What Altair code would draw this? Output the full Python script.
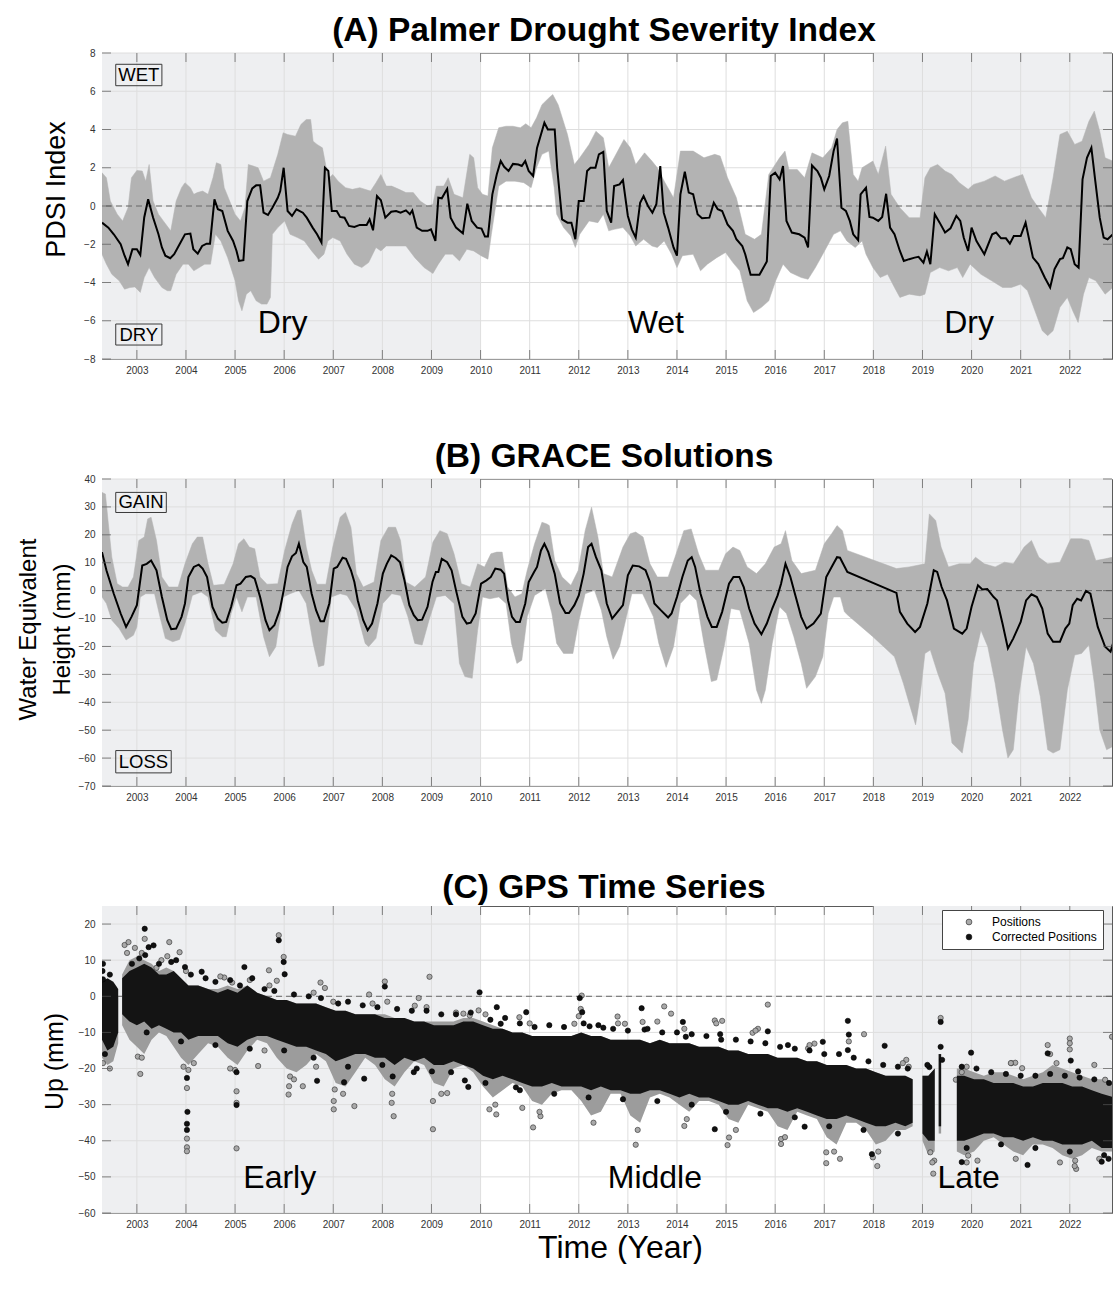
import altair as alt
import pandas as pd

FONT = "Liberation Sans"
X0, X1 = 2002.29, 2022.86
W = 1010
H_A, H_B, H_C = 306, 307, 307

YEARS = list(range(2003, 2023))
PDSI_TICKS = list(range(-8, 9, 2))
GRACE_TICKS = list(range(-70, 41, 10))
GPS_TICKS = list(range(-60, 21, 10))
PERIODS = [(X0, 2010.0), (2018.0, X1)]

# ---------------- (A) PDSI ----------------
PDSI_LINE = [
(2002.29,-0.87),(2002.42,-1.13),(2002.53,-1.48),(2002.67,-2.0),(2002.75,-2.6),(2002.82,-3.04),(2002.91,-2.26),(2003.0,-2.26),
(2003.07,-2.56),(2003.15,-0.6),(2003.23,0.35),(2003.33,-0.6),(2003.44,-1.48),(2003.51,-2.17),(2003.58,-2.6),(2003.68,-2.73),
(2003.76,-2.52),(2003.87,-2.0),(2003.98,-1.48),(2004.09,-1.44),(2004.15,-2.26),(2004.24,-2.49),(2004.33,-2.09),(2004.42,-1.97),
(2004.49,-1.97),(2004.58,0.35),(2004.65,-0.17),(2004.74,-0.26),(2004.85,-1.3),(2004.96,-1.83),(2005.03,-2.35),(2005.08,-2.87),
(2005.17,-2.83),(2005.25,0.26),(2005.35,0.92),(2005.43,1.08),(2005.51,1.08),(2005.58,-0.35),(2005.67,-0.47),(2005.76,-0.09),
(2005.87,0.43),(2005.92,0.78),(2005.99,2.0),(2006.07,-0.26),(2006.16,-0.52),(2006.25,-0.17),(2006.38,-0.35),(2006.46,-0.61),
(2006.58,-1.13),(2006.67,-1.48),(2006.76,-1.91),(2006.83,2.0),(2006.9,1.83),(2006.97,-0.26),(2007.07,-0.26),(2007.14,-0.57),
(2007.23,-0.61),(2007.32,-1.04),(2007.43,-1.1),(2007.54,-0.99),(2007.68,-0.99),(2007.74,-0.7),(2007.81,-1.27),(2007.89,0.52),
(2007.97,0.3),(2008.06,-0.61),(2008.18,-0.3),(2008.28,-0.26),(2008.37,-0.35),(2008.48,-0.23),(2008.56,-0.43),(2008.61,-0.23),
(2008.7,-1.13),(2008.81,-1.3),(2008.92,-1.3),(2008.99,-1.22),(2009.08,-1.83),(2009.14,0.43),(2009.21,0.4),(2009.32,0.9),
(2009.39,-0.61),(2009.5,-1.13),(2009.64,-1.43),(2009.73,0.12),(2009.82,-0.78),(2009.93,-1.13),(2010.02,-1.18),(2010.09,-1.6),
(2010.15,-1.6),(2010.24,0.61),(2010.33,1.65),(2010.41,2.35),(2010.48,2.05),(2010.57,1.83),(2010.66,2.2),(2010.77,2.17),
(2010.84,2.09),(2010.91,2.35),(2010.98,1.83),(2011.07,1.57),(2011.15,3.04),(2011.23,3.74),(2011.3,4.35),(2011.37,4.0),
(2011.46,4.0),(2011.51,4.0),(2011.56,2.0),(2011.66,-0.7),(2011.77,-0.87),(2011.85,-0.87),(2011.93,-1.74),(2012.0,0.26),
(2012.1,0.26),(2012.17,1.83),(2012.24,2.0),(2012.34,2.0),(2012.41,2.7),(2012.5,2.83),(2012.57,-0.26),(2012.66,-0.87),
(2012.72,1.04),(2012.83,1.13),(2012.9,1.36),(2013.0,-0.52),(2013.08,-1.22),(2013.16,-1.65),(2013.25,0.17),(2013.32,0.52),
(2013.41,0.0),(2013.5,-0.35),(2013.58,0.09),(2013.66,2.09),(2013.73,-0.35),(2013.82,-1.13),(2013.93,-2.17),(2014.0,-2.6),
(2014.07,0.61),(2014.16,1.79),(2014.24,0.7),(2014.33,0.61),(2014.42,-0.43),(2014.51,-0.64),(2014.66,-0.61),(2014.75,0.17),
(2014.83,-0.17),(2014.92,-0.26),(2015.03,-0.96),(2015.14,-1.3),(2015.21,-1.74),(2015.33,-2.09),(2015.39,-2.52),(2015.5,-3.6),
(2015.68,-3.6),(2015.83,-2.9),(2015.91,1.57),(2016.0,1.74),(2016.09,1.39),(2016.16,2.09),(2016.23,-0.78),(2016.34,-1.39),
(2016.49,-1.48),(2016.6,-1.65),(2016.67,-2.17),(2016.75,2.12),(2016.86,1.83),(2016.93,1.48),(2017.0,0.87),(2017.1,1.57),
(2017.19,2.87),(2017.26,3.53),(2017.35,-0.09),(2017.44,-0.26),(2017.52,-0.78),(2017.59,-1.48),(2017.69,-1.79),(2017.74,0.61),
(2017.85,0.96),(2017.92,-0.57),(2017.99,-0.61),(2018.1,-0.78),(2018.18,-0.57),(2018.26,0.64),(2018.34,-1.13),(2018.43,-1.48),
(2018.54,-2.35),(2018.62,-2.87),(2018.73,-2.78),(2018.84,-2.7),(2018.92,-2.66),(2019.02,-2.96),(2019.09,-2.38),(2019.16,-3.04),
(2019.25,-0.43),(2019.35,-0.87),(2019.46,-1.39),(2019.57,-1.17),(2019.69,-0.52),(2019.77,-0.78),(2019.84,-1.65),(2019.93,-2.35),
(2020.0,-1.13),(2020.1,-1.83),(2020.26,-2.52),(2020.42,-1.48),(2020.5,-1.39),(2020.6,-1.69),(2020.7,-1.69),(2020.78,-1.97),
(2020.86,-1.57),(2021.0,-1.57),(2021.1,-0.87),(2021.25,-2.7),(2021.36,-3.04),(2021.49,-3.74),(2021.6,-4.26),(2021.69,-3.3),
(2021.8,-2.78),(2021.86,-2.73),(2021.95,-2.17),(2022.02,-2.26),(2022.1,-3.04),(2022.18,-3.22),(2022.26,1.39),(2022.35,2.52),
(2022.44,3.04),(2022.52,1.3),(2022.61,-0.61),(2022.69,-1.65),(2022.77,-1.74),(2022.88,-1.48)]

PDSI_UPPER = [
(2002.29,1.74),(2002.38,1.48),(2002.46,0.26),(2002.6,-0.43),(2002.71,-0.78),(2002.82,-0.09),(2002.89,1.48),(2003.0,1.86),
(2003.11,1.83),(2003.18,1.3),(2003.25,2.17),(2003.33,0.26),(2003.44,-0.43),(2003.54,-0.78),(2003.69,-1.3),(2003.8,0.26),
(2003.91,0.96),(2003.98,1.22),(2004.09,0.96),(2004.16,0.61),(2004.23,0.7),(2004.34,0.78),(2004.45,0.61),(2004.55,1.48),
(2004.62,2.26),(2004.71,2.17),(2004.78,0.96),(2004.89,0.26),(2005.0,-0.43),(2005.11,-0.78),(2005.2,-0.09),(2005.27,2.17),
(2005.37,2.09),(2005.47,2.0),(2005.58,1.3),(2005.72,1.48),(2005.87,2.7),(2005.98,3.83),(2006.07,3.74),(2006.23,3.65),
(2006.34,4.26),(2006.45,4.52),(2006.54,4.52),(2006.59,3.39),(2006.67,3.22),(2006.78,3.04),(2006.85,2.09),(2006.92,1.48),
(2006.99,1.65),(2007.1,1.3),(2007.25,0.96),(2007.39,0.87),(2007.54,0.96),(2007.76,0.78),(2007.87,1.22),(2007.97,1.65),
(2008.08,1.04),(2008.19,1.04),(2008.34,0.87),(2008.48,0.7),(2008.63,0.7),(2008.77,0.26),(2008.92,0.0),(2009.03,0.09),
(2009.1,1.04),(2009.25,1.04),(2009.34,1.48),(2009.46,0.61),(2009.64,0.43),(2009.78,2.7),(2009.86,2.52),(2009.94,0.96),
(2010.04,0.61),(2010.15,0.52),(2010.24,3.04),(2010.37,4.09),(2010.52,4.17),(2010.66,4.17),(2010.81,4.09),(2010.92,4.3),
(2011.03,4.09),(2011.14,4.61),(2011.25,5.3),(2011.39,5.65),(2011.47,5.83),(2011.58,5.3),(2011.77,3.74),(2011.91,2.17),
(2012.02,2.52),(2012.21,3.22),(2012.35,3.91),(2012.5,3.57),(2012.61,2.0),(2012.72,2.52),(2012.92,3.48),(2013.05,3.04),
(2013.16,2.17),(2013.34,2.78),(2013.49,2.35),(2013.6,2.0),(2013.74,1.3),(2013.93,0.43),(2014.07,2.87),(2014.33,2.87),
(2014.55,2.52),(2014.77,2.7),(2014.88,2.61),(2015.03,1.48),(2015.21,0.43),(2015.39,-1.48),(2015.58,-1.74),(2015.72,-1.48),
(2015.87,1.65),(2016.09,2.52),(2016.2,2.87),(2016.28,1.91),(2016.45,1.91),(2016.6,1.48),(2016.75,2.78),(2016.97,2.52),
(2017.15,3.04),(2017.26,4.0),(2017.37,4.35),(2017.48,4.43),(2017.59,1.65),(2017.69,1.3),(2017.77,2.0),(2017.99,2.35),
(2018.1,1.65),(2018.25,3.13),(2018.36,0.61),(2018.54,-0.09),(2018.73,-0.61),(2018.95,-0.61),(2019.05,1.48),(2019.16,2.0),
(2019.31,2.17),(2019.46,1.83),(2019.6,1.65),(2019.75,1.22),(2019.93,0.87),(2020.04,1.13),(2020.26,1.3),(2020.48,1.57),
(2020.67,1.3),(2020.85,1.48),(2021.04,1.65),(2021.22,0.43),(2021.36,-0.09),(2021.51,-0.61),(2021.66,1.48),(2021.8,3.74),
(2021.95,3.91),(2022.1,3.22),(2022.25,3.39),(2022.39,4.43),(2022.5,4.96),(2022.61,3.91),(2022.72,2.52),(2022.88,2.35)]

PDSI_LOWER = [
(2002.29,-2.52),(2002.38,-3.04),(2002.49,-3.57),(2002.64,-3.91),(2002.75,-4.35),(2002.86,-4.26),(2002.96,-4.23),(2003.07,-4.52),
(2003.15,-3.74),(2003.25,-3.22),(2003.36,-3.74),(2003.51,-4.26),(2003.62,-4.43),(2003.69,-4.43),(2003.8,-3.57),(2003.94,-3.04),
(2004.05,-3.04),(2004.16,-3.39),(2004.27,-3.22),(2004.38,-3.04),(2004.5,-3.04),(2004.6,-1.48),(2004.71,-1.83),(2004.85,-2.7),
(2005.0,-3.91),(2005.07,-4.96),(2005.14,-5.48),(2005.23,-4.61),(2005.32,-4.43),(2005.43,-4.96),(2005.54,-5.13),(2005.65,-5.13),
(2005.72,-4.78),(2005.76,-1.48),(2005.87,-1.13),(2006.01,-0.78),(2006.12,-1.48),(2006.27,-1.65),(2006.41,-1.83),(2006.56,-2.35),
(2006.7,-2.78),(2006.81,-2.52),(2006.89,-1.83),(2006.99,-1.65),(2007.14,-1.83),(2007.28,-2.52),(2007.43,-3.04),(2007.58,-3.22),
(2007.72,-2.96),(2007.87,-2.17),(2007.97,-2.35),(2008.08,-2.09),(2008.27,-2.09),(2008.48,-2.09),(2008.66,-2.7),(2008.85,-3.22),
(2009.03,-3.53),(2009.14,-3.04),(2009.28,-2.52),(2009.43,-2.52),(2009.57,-2.87),(2009.72,-2.26),(2009.86,-2.35),(2010.01,-2.6),
(2010.15,-2.78),(2010.22,-1.48),(2010.37,1.04),(2010.52,1.3),(2010.7,1.3),(2010.88,1.22),(2011.03,0.96),(2011.14,2.0),
(2011.25,2.7),(2011.39,2.87),(2011.5,0.96),(2011.55,-0.43),(2011.69,-1.13),(2011.84,-1.57),(2011.93,-2.17),(2012.02,-1.48),
(2012.21,-0.78),(2012.39,-0.87),(2012.5,-0.43),(2012.61,-1.3),(2012.72,-1.22),(2012.9,-1.13),(2013.05,-1.57),(2013.16,-2.09),
(2013.32,-1.74),(2013.49,-2.09),(2013.6,-2.17),(2013.74,-1.83),(2013.89,-2.52),(2014.0,-3.22),(2014.11,-2.6),(2014.33,-2.52),
(2014.48,-3.39),(2014.62,-3.04),(2014.81,-2.7),(2014.99,-2.43),(2015.14,-2.96),(2015.28,-3.39),(2015.43,-4.96),(2015.56,-5.57),
(2015.72,-5.3),(2015.87,-4.96),(2016.01,-3.91),(2016.16,-3.04),(2016.31,-3.48),(2016.53,-3.74),(2016.67,-3.83),(2016.82,-3.22),
(2016.97,-2.52),(2017.19,-1.48),(2017.33,-1.3),(2017.46,-1.83),(2017.63,-2.17),(2017.77,-1.83),(2017.85,-2.52),(2017.99,-3.22),
(2018.14,-3.74),(2018.29,-3.57),(2018.43,-4.26),(2018.54,-4.78),(2018.73,-4.61),(2018.95,-4.7),(2019.05,-4.61),(2019.16,-3.48),
(2019.35,-3.22),(2019.53,-3.39),(2019.71,-3.22),(2019.82,-3.74),(2019.97,-3.04),(2020.19,-3.57),(2020.41,-3.91),(2020.63,-4.26),
(2020.81,-4.26),(2021.0,-4.09),(2021.14,-4.43),(2021.29,-5.48),(2021.44,-6.52),(2021.55,-6.78),(2021.66,-6.52),(2021.8,-5.3),
(2021.95,-4.78),(2022.06,-5.48),(2022.17,-6.09),(2022.28,-4.61),(2022.39,-3.74),(2022.53,-3.91),(2022.72,-4.61),(2022.88,-4.26)]

# ---------------- (B) GRACE ----------------
GRACE_LINE = [
(2002.29,13.8),(2002.38,7.3),(2002.53,-1.1),(2002.67,-8.2),(2002.78,-13.0),(2002.89,-9.4),(2003.0,-5.2),(2003.11,9.0),
(2003.2,9.6),(2003.29,10.8),(2003.4,7.3),(2003.51,-2.3),(2003.62,-10.6),(2003.7,-13.8),(2003.8,-13.6),(2003.91,-9.4),
(2003.98,-4.6),(2004.05,4.9),(2004.16,8.5),(2004.26,9.3),(2004.34,7.9),(2004.43,4.9),(2004.54,-5.8),(2004.65,-10.0),
(2004.74,-11.5),(2004.82,-11.2),(2004.92,-5.8),(2005.03,1.9),(2005.11,2.5),(2005.22,4.9),(2005.32,5.2),(2005.4,4.3),
(2005.51,-2.3),(2005.62,-10.6),(2005.7,-14.2),(2005.8,-12.4),(2005.91,-7.0),(2005.99,0.1),(2006.07,8.5),(2006.16,12.3),
(2006.24,13.5),(2006.3,16.8),(2006.39,10.2),(2006.46,8.5),(2006.56,-1.1),(2006.65,-7.0),(2006.74,-11.0),(2006.81,-11.0),
(2006.92,-4.6),(2007.01,7.9),(2007.08,8.5),(2007.19,11.8),(2007.26,11.4),(2007.36,7.3),(2007.43,3.1),(2007.5,-3.5),
(2007.61,-10.6),(2007.7,-14.2),(2007.79,-11.8),(2007.9,-4.6),(2008.01,6.1),(2008.09,9.6),(2008.18,12.6),(2008.27,11.7),
(2008.36,10.2),(2008.45,3.7),(2008.55,-5.2),(2008.64,-8.8),(2008.72,-10.6),(2008.81,-10.4),(2008.92,-5.8),(2009.02,3.1),
(2009.09,6.7),(2009.14,6.7),(2009.21,11.4),(2009.32,10.2),(2009.41,7.3),(2009.5,0.1),(2009.63,-9.4),(2009.72,-11.8),
(2009.8,-11.5),(2009.9,-8.2),(2010.01,2.5),(2010.12,3.7),(2010.21,4.9),(2010.3,7.9),(2010.41,7.5),(2010.48,6.1),
(2010.56,-3.5),(2010.64,-9.4),(2010.72,-11.2),(2010.8,-11.2),(2010.91,-4.6),(2010.98,3.1),(2011.09,6.7),(2011.15,8.5),
(2011.23,14.4),(2011.3,16.8),(2011.38,13.8),(2011.51,6.1),(2011.62,-4.6),(2011.73,-8.0),(2011.8,-8.0),(2011.91,-5.2),
(2012.0,-1.7),(2012.1,6.1),(2012.19,15.6),(2012.26,16.8),(2012.35,12.0),(2012.46,7.3),(2012.57,-4.6),(2012.68,-10.0),
(2012.79,-7.6),(2012.9,-5.2),(2013.0,5.5),(2013.1,9.0),(2013.23,8.7),(2013.36,7.3),(2013.45,3.1),(2013.54,-4.6),
(2013.67,-7.0),(2013.82,-9.6),(2013.89,-8.2),(2014.0,-2.3),(2014.11,4.9),(2014.22,10.8),(2014.3,12.0),(2014.37,8.5),
(2014.48,-1.1),(2014.62,-9.4),(2014.71,-13.0),(2014.81,-13.0),(2014.92,-7.6),(2015.06,2.5),(2015.15,4.9),(2015.27,4.9),
(2015.36,1.3),(2015.47,-6.4),(2015.58,-11.8),(2015.72,-15.6),(2015.83,-11.8),(2015.94,-6.4),(2016.05,-1.7),(2016.12,2.5),
(2016.21,9.6),(2016.31,4.9),(2016.42,-2.3),(2016.53,-9.4),(2016.64,-13.6),(2016.78,-11.8),(2016.93,-8.2),(2017.04,4.9),
(2017.15,8.5),(2017.26,12.0),(2017.32,11.8),(2017.47,6.7),(2018.47,-0.8),(2018.54,-7.6),(2018.69,-11.8),(2018.85,-14.8),
(2018.95,-13.0),(2019.1,-4.6),(2019.23,7.3),(2019.3,6.7),(2019.39,1.3),(2019.5,-3.5),(2019.64,-13.6),(2019.81,-15.4),
(2019.9,-13.6),(2020.0,-5.8),(2020.13,1.9),(2020.22,0.4),(2020.32,0.6),(2020.45,-2.3),(2020.52,-3.5),(2020.63,-11.8),
(2020.74,-20.7),(2020.85,-17.1),(2021.0,-11.2),(2021.11,-3.5),(2021.22,-1.3),(2021.33,-2.3),(2021.44,-6.4),(2021.55,-15.4),
(2021.66,-18.3),(2021.8,-18.3),(2021.91,-13.6),(2021.99,-11.8),(2022.06,-5.2),(2022.15,-2.9),(2022.23,-3.5),(2022.33,-0.1),
(2022.42,-1.1),(2022.57,-13.0),(2022.72,-20.1),(2022.83,-21.9),(2022.88,-18.9)]

GRACE_UPPER = [
(2002.29,35.2),(2002.36,34.6),(2002.42,23.9),(2002.49,12.0),(2002.6,2.5),(2002.71,1.3),(2002.82,1.3),(2002.93,4.9),
(2003.04,18.0),(2003.15,19.2),(2003.22,25.7),(2003.29,26.3),(2003.4,18.0),(2003.51,4.9),(2003.65,1.3),(2003.84,1.3),
(2003.98,9.6),(2004.13,16.8),(2004.23,19.2),(2004.34,19.2),(2004.45,9.6),(2004.56,1.9),(2004.78,2.3),(2004.96,9.6),
(2005.07,16.8),(2005.18,18.6),(2005.29,15.6),(2005.4,15.0),(2005.51,4.9),(2005.65,2.3),(2005.87,2.5),(2006.01,14.4),
(2006.16,23.9),(2006.27,28.7),(2006.34,28.9),(2006.45,15.6),(2006.56,7.3),(2006.67,2.3),(2006.85,2.3),(2006.99,15.6),
(2007.14,26.3),(2007.25,28.1),(2007.36,22.7),(2007.47,6.1),(2007.61,1.3),(2007.83,3.1),(2007.97,18.0),(2008.12,22.7),
(2008.27,22.7),(2008.37,18.0),(2008.48,3.1),(2008.66,1.3),(2008.88,4.9),(2009.03,17.4),(2009.17,21.5),(2009.32,20.4),
(2009.46,13.2),(2009.61,2.5),(2009.79,1.3),(2009.94,9.6),(2010.08,8.5),(2010.21,13.2),(2010.33,13.8),(2010.44,13.8),
(2010.55,1.3),(2010.7,-2.3),(2010.84,-1.1),(2010.95,7.3),(2011.1,16.8),(2011.25,24.5),(2011.35,23.9),(2011.4,23.3),
(2011.51,10.8),(2011.66,4.9),(2011.84,1.9),(2011.99,7.3),(2012.13,21.5),(2012.26,29.9),(2012.39,19.2),(2012.5,6.1),
(2012.68,4.9),(2012.9,15.6),(2013.05,20.4),(2013.16,21.0),(2013.31,19.2),(2013.45,9.6),(2013.6,4.9),(2013.82,4.9),
(2013.96,12.0),(2014.14,21.5),(2014.29,22.1),(2014.44,13.2),(2014.58,7.3),(2014.85,7.3),(2014.99,13.2),(2015.14,15.6),
(2015.28,14.4),(2015.43,8.5),(2015.62,6.1),(2015.8,9.6),(2015.98,15.6),(2016.12,16.8),(2016.21,21.5),(2016.34,10.8),
(2016.53,6.1),(2016.82,7.3),(2017.0,16.8),(2017.15,20.4),(2017.26,23.3),(2017.37,21.5),(2017.47,14.4),(2018.47,7.9),
(2018.73,8.5),(2019.05,9.6),(2019.14,27.5),(2019.27,25.1),(2019.38,15.6),(2019.53,8.5),(2019.75,9.6),(2019.97,9.6),
(2020.08,12.0),(2020.26,9.6),(2020.48,8.5),(2020.67,10.2),(2020.85,9.6),(2021.07,15.6),(2021.22,18.0),(2021.37,12.0),
(2021.55,9.6),(2021.8,10.2),(2022.02,18.6),(2022.24,18.6),(2022.39,18.0),(2022.53,10.8),(2022.72,11.4),(2022.88,12.0)]

GRACE_LOWER = [
(2002.29,-2.3),(2002.38,-4.6),(2002.49,-10.6),(2002.64,-13.6),(2002.78,-17.7),(2002.93,-16.0),(2003.0,-13.0),(2003.07,-2.3),
(2003.18,-1.1),(2003.36,-1.1),(2003.47,-9.4),(2003.58,-17.1),(2003.73,-18.3),(2003.87,-17.5),(2003.98,-11.8),(2004.13,-1.7),
(2004.31,-0.5),(2004.45,-2.3),(2004.6,-14.2),(2004.74,-16.5),(2004.82,-16.5),(2004.92,-8.2),(2005.03,-2.3),(2005.14,-7.6),
(2005.25,-2.3),(2005.43,-2.3),(2005.58,-16.5),(2005.7,-23.7),(2005.83,-20.1),(2005.98,-2.3),(2006.12,-1.1),(2006.3,0.1),
(2006.45,-4.6),(2006.59,-18.9),(2006.7,-27.3),(2006.81,-26.7),(2006.96,-2.3),(2007.14,-1.1),(2007.28,-1.7),(2007.47,-7.0),
(2007.65,-18.9),(2007.72,-20.1),(2007.87,-17.1),(2008.01,-4.6),(2008.19,-1.1),(2008.37,-1.7),(2008.52,-9.4),(2008.66,-18.9),
(2008.81,-19.5),(2008.95,-10.6),(2009.1,-2.3),(2009.28,-1.7),(2009.46,-4.6),(2009.57,-26.1),(2009.68,-30.8),(2009.83,-31.4),
(2009.94,-14.2),(2010.04,-2.3),(2010.19,-2.9),(2010.37,-2.3),(2010.52,-4.6),(2010.63,-18.9),(2010.74,-26.1),(2010.84,-24.9),
(2010.95,-9.4),(2011.1,-1.7),(2011.32,0.7),(2011.45,-8.0),(2011.55,-18.9),(2011.69,-22.5),(2011.88,-22.5),(2011.99,-11.8),
(2012.13,-1.1),(2012.32,0.1),(2012.46,-7.0),(2012.57,-16.5),(2012.7,-24.6),(2012.83,-20.1),(2012.97,-9.4),(2013.08,-1.1),
(2013.3,-1.1),(2013.52,-9.4),(2013.63,-18.9),(2013.78,-27.5),(2013.93,-20.1),(2014.07,-4.6),(2014.26,-1.1),(2014.4,-3.5),
(2014.55,-18.9),(2014.7,-32.6),(2014.81,-32.0),(2014.96,-20.1),(2015.1,-6.4),(2015.28,-7.0),(2015.47,-18.9),(2015.62,-35.6),
(2015.72,-40.4),(2015.8,-35.6),(2015.94,-18.9),(2016.09,-5.8),(2016.23,-8.2),(2016.38,-16.5),(2016.53,-26.1),(2016.64,-35.0),
(2016.82,-30.8),(2016.97,-23.7),(2017.08,-8.2),(2017.19,-2.3),(2017.33,-2.3),(2017.41,-7.6),(2017.48,-8.8),(2017.99,-16.5),
(2018.43,-23.7),(2018.61,-33.2),(2018.73,-40.4),(2018.86,-48.1),(2018.95,-38.0),(2019.05,-22.5),(2019.16,-21.3),(2019.31,-29.6),
(2019.46,-36.8),(2019.6,-54.6),(2019.81,-58.2),(2019.93,-46.3),(2020.04,-26.1),(2020.19,-14.2),(2020.33,-20.1),(2020.48,-33.2),
(2020.63,-49.9),(2020.74,-60.0),(2020.85,-57.0),(2020.96,-38.0),(2021.11,-20.1),(2021.26,-26.1),(2021.4,-38.0),(2021.55,-57.0),
(2021.66,-58.2),(2021.8,-57.0),(2021.95,-35.6),(2022.1,-23.1),(2022.24,-22.5),(2022.39,-19.5),(2022.5,-33.2),(2022.61,-49.9),
(2022.75,-57.0),(2022.88,-55.8)]

# ---------------- (C) GPS ----------------
# dense cloud of daily solutions: (time, upper edge, lower edge), split where data are missing
GPS_CORR_CLOUD = [
 [(2002.29,4,-12),(2002.40,5,-15),(2002.52,4,-14),(2002.62,2,-10)],
 [(2002.70,5,-5),(2002.85,7,-7),(2003.00,8,-8),(2003.15,9,-7),(2003.30,8,-9),(2003.45,6,-8),(2003.60,6,-9),(2003.75,7,-10),
  (2003.90,5,-10),(2004.05,3,-12),(2004.25,3,-11),(2004.45,2,-11),(2004.65,1,-11),(2004.85,2,-13),(2005.05,1,-14),(2005.25,3,-12),
  (2005.45,1,-11),(2005.65,0,-11),(2005.85,-1,-12),(2006.05,-1,-13),(2006.25,-2,-14),(2006.45,-2,-14),(2006.65,-2,-15),(2006.85,-3,-16),
  (2007.05,-4,-18),(2007.25,-4,-17),(2007.45,-5,-16),(2007.65,-5,-16),(2007.85,-5,-17),(2008.05,-6,-17),(2008.25,-6,-19),(2008.45,-6,-17),
  (2008.65,-7,-18),(2008.85,-7,-17),(2009.05,-8,-19),(2009.25,-8,-19),(2009.45,-8,-18),(2009.65,-7,-19),(2009.85,-7,-20),(2010.05,-8,-22),
  (2010.25,-9,-23),(2010.45,-9,-22),(2010.65,-10,-23),(2010.85,-10,-24),(2011.05,-11,-25),(2011.25,-11,-25),(2011.45,-11,-24),(2011.65,-11,-25),
  (2011.85,-11,-25),(2012.05,-10,-25),(2012.25,-11,-26),(2012.45,-11,-25),(2012.65,-12,-26),(2012.85,-12,-26),(2013.05,-12,-27),(2013.25,-12,-27),
  (2013.45,-13,-26),(2013.65,-12,-26),(2013.85,-13,-27),(2014.05,-13,-28),(2014.25,-13,-27),(2014.45,-14,-28),(2014.65,-14,-28),(2014.85,-14,-29),
  (2015.05,-15,-30),(2015.25,-15,-30),(2015.45,-16,-29),(2015.65,-16,-30),(2015.85,-16,-31),(2016.05,-17,-31),(2016.25,-17,-32),(2016.45,-17,-31),
  (2016.65,-18,-32),(2016.85,-18,-33),(2017.05,-19,-34),(2017.25,-19,-34),(2017.45,-19,-33),(2017.65,-20,-34),(2017.85,-20,-35),(2018.05,-21,-36),
  (2018.25,-22,-36),(2018.45,-22,-35),(2018.65,-22,-36),(2018.80,-23,-35)],
 [(2019.00,-22,-38),(2019.12,-22,-40),(2019.25,-20,-40)],
 [(2019.33,-16,-36),(2019.38,-16,-36)],
 [(2019.70,-22,-40),(2019.85,-22,-40),(2020.05,-23,-39),(2020.25,-23,-38),(2020.45,-24,-38),(2020.65,-24,-39),(2020.85,-24,-39),
  (2021.05,-25,-40),(2021.25,-25,-39),(2021.45,-24,-40),(2021.65,-24,-40),(2021.85,-24,-41),(2022.05,-25,-41),(2022.25,-25,-41),
  (2022.45,-26,-40),(2022.65,-27,-42),(2022.90,-28,-42)]]

GPS_POS_CLOUD = [
 [(2002.29,3,-17),(2002.40,2,-19),(2002.52,2,-18),(2002.62,0,-13)],
 [(2002.70,6,-8),(2002.85,10,-12),(2003.00,11,-14),(2003.15,10,-16),(2003.30,9,-12),(2003.45,7,-10),(2003.60,8,-11),(2003.75,7,-14),
  (2003.90,5,-17),(2004.05,3,-19),(2004.25,3,-16),(2004.45,2,-13),(2004.65,2,-14),(2004.85,3,-17),(2005.05,2,-19),(2005.25,3,-15),
  (2005.45,1,-12),(2005.65,0,-13),(2005.85,-1,-17),(2006.05,-1,-20),(2006.25,-2,-21),(2006.45,-2,-19),(2006.65,-2,-16),(2006.85,-3,-18),
  (2007.05,-4,-24),(2007.25,-4,-25),(2007.45,-5,-21),(2007.65,-5,-17),(2007.85,-5,-19),(2008.05,-5,-23),(2008.25,-6,-25),(2008.45,-6,-21),
  (2008.65,-7,-18),(2008.85,-7,-19),(2009.05,-7,-24),(2009.25,-7,-25),(2009.45,-7,-20),(2009.65,-6,-19),(2009.85,-6,-21),(2010.05,-7,-25),
  (2010.25,-8,-28),(2010.45,-9,-26),(2010.65,-10,-24),(2010.85,-10,-25),(2011.05,-11,-29),(2011.25,-11,-30),(2011.45,-11,-27),(2011.65,-11,-26),
  (2011.85,-11,-26),(2012.05,-10,-29),(2012.25,-11,-33),(2012.45,-11,-32),(2012.65,-12,-27),(2012.85,-12,-27),(2013.05,-12,-33),(2013.25,-12,-35),
  (2013.45,-13,-28),(2013.65,-12,-27),(2013.85,-13,-28),(2014.05,-13,-30),(2014.25,-13,-32),(2014.45,-14,-29),(2014.65,-14,-29),(2014.85,-14,-30),
  (2015.05,-15,-34),(2015.25,-15,-35),(2015.45,-16,-30),(2015.65,-16,-31),(2015.85,-16,-32),(2016.05,-17,-36),(2016.25,-17,-37),(2016.45,-17,-32),
  (2016.65,-18,-33),(2016.85,-18,-34),(2017.05,-19,-39),(2017.25,-19,-41),(2017.45,-19,-35),(2017.65,-20,-35),(2017.85,-20,-37),(2018.05,-21,-41),
  (2018.25,-22,-40),(2018.45,-22,-37),(2018.65,-22,-37),(2018.80,-23,-36)],
 [(2019.00,-22,-40),(2019.12,-22,-44),(2019.25,-20,-43)],
 [(2019.33,-16,-38),(2019.38,-16,-38)],
 [(2019.70,-20,-43),(2019.85,-20,-44),(2020.05,-21,-43),(2020.25,-22,-40),(2020.45,-21,-39),(2020.65,-21,-41),(2020.85,-22,-43),
  (2021.05,-23,-44),(2021.25,-22,-41),(2021.45,-21,-41),(2021.65,-19,-42),(2021.85,-20,-44),(2022.05,-21,-45),(2022.25,-22,-44),
  (2022.45,-23,-42),(2022.65,-23,-43),(2022.90,-24,-43)]]

# individual scattered solutions standing out of the cloud
GPS_POS_PTS = [
(2002.75,14.2),(2002.83,15.0),(2002.96,13.4),(2003.16,15.9),(2003.66,15.0),(2003.87,12.2),(2003.62,11.1),(2003.4,7.9),
(2003.07,-21.5),(2003.02,-16.7),(2002.31,-18.5),(2004.02,-25.4),(2004.02,-39.4),(2004.02,-41.8),(2004.02,-42.9),(2004.05,-20.4),
(2004.16,-18.5),(2004.78,5.2),(2004.94,3.8),(2005.03,-26.3),(2005.03,-29.5),(2005.03,-42.1),(2005.0,-20.4),(2005.47,-19.3),
(2005.69,7.2),(2005.85,4.3),(2005.89,16.9),(2005.99,10.9),(2006.09,-27.2),(2006.1,-24.9),(2006.12,-22.2),(2006.38,-24.9),
(2006.65,-19.5),(2006.74,3.8),(2006.83,2.3),(2007.01,-29.0),(2007.01,-31.3),(2007.03,-25.8),(2007.43,-30.4),(2007.73,0.5),
(2008.05,4.1),(2008.19,-29.5),(2008.23,-33.2),(2008.74,-0.5),(2008.96,5.4),(2009.03,-29.0),(2009.03,-36.8),(2009.32,-26.8),
(2008.66,-2.6),(2009.65,-4.8),(2009.78,-5.3),(2009.96,-3.9),(2010.18,-31.3),(2010.32,-32.7),(2010.85,-30.9),(2011.07,-36.3),
(2011.22,-33.2),(2010.79,-5.8),(2012.06,0.2),(2012.04,-3.5),(2011.91,-7.6),(2012.79,-5.6),(2012.94,-7.6),(2013.3,-7.1),
(2013.16,-41.1),(2013.74,-2.8),(2013.88,-4.8),(2014.15,-9.0),(2014.15,-35.9),(2014.77,-6.7),(2014.92,-6.8),(2015.03,-41.2),
(2015.06,-39.1),(2015.54,-10.1),(2015.65,-9.0),(2015.85,-2.3),(2016.12,-39.5),(2016.12,-40.9),(2016.67,-14.4),(2016.8,-13.1),
(2017.04,-43.2),(2017.04,-46.2),(2017.32,-45.0),(2017.81,-10.5),(2017.99,-44.6),(2018.08,-47.0),(2018.67,-17.6),(2018.72,-19.5),
(2019.16,-43.2),(2019.24,-45.5),(2019.22,-49.1),(2019.37,-6.0),(2019.68,-23.1),(2019.9,-19.5),(2019.93,-44.1),(2020.12,-45.5),
(2020.81,-18.5),(2020.89,-18.4),(2021.03,-19.9),(2021.55,-13.5),(2021.73,-18.5),(2022.0,-11.7),(2022.0,-14.7),(2022.13,-47.8),
(2022.11,-45.5),(2022.72,-23.1),(2022.86,-11.2),
# ragged edges of the positions cloud
(2002.45,-20),(2003.1,-17),(2003.95,-19.5),(2004.9,-20),(2005.6,-15),(2006.2,-23),(2007.2,-27),(2008.2,-27),(2009.2,-27),
(2010.3,-30),(2011.2,-32),(2012.3,-35),(2013.2,-37),(2014.2,-34),(2015.2,-37),(2016.2,-39),(2017.2,-43),(2018.1,-43),
(2019.2,-46),(2019.9,-46),(2020.9,-45),(2021.8,-46),(2022.1,-47),(2022.6,-45),
(2002.8,12),(2003.1,12),(2003.5,10),(2004.0,7),(2004.7,5.5),(2005.3,4.5),(2005.7,3),(2006.6,1),(2007.0,-1.5),(2007.8,-2),
(2008.1,-1.5),(2008.9,-3),(2009.5,-4.5),(2010.1,-5),(2011.0,-7.5),(2012.0,-5.5),(2012.8,-7.5),(2013.6,-7),(2014.8,-7.5),
(2015.6,-9.5),(2016.7,-13.5),(2017.5,-12.5),(2018.6,-18.5),(2019.8,-21),(2020.8,-18.5),(2021.6,-16),(2022.0,-13),(2022.5,-19)]

GPS_CORR_PTS = [
(2002.31,9.0),(2002.3,7.0),(2002.31,4.7),(2003.16,18.7),(2003.24,13.6),(2003.34,14.1),(2003.17,11.4),(2003.8,10.0),
(2003.98,8.1),(2004.32,6.8),(2004.02,-22.6),(2004.03,-32.0),(2004.02,-35.3),(2004.02,-37.0),(2005.03,-21.0),(2005.03,-30.1),
(2005.19,8.1),(2005.89,15.5),(2005.99,9.5),(2006.01,6.1),(2006.67,-23.4),(2007.22,-23.8),(2007.63,-22.8),(2008.05,2.7),
(2008.21,-22.2),(2008.64,-21.0),(2009.01,-20.8),(2009.68,-23.3),(2009.75,-25.1),(2009.98,1.1),(2010.33,-3.0),(2010.41,-7.6),
(2010.72,-25.2),(2010.93,-4.4),(2012.02,-0.5),(2012.07,-4.4),(2012.22,-8.3),(2012.5,-8.7),(2013.28,-3.3),(2013.34,-9.2),
(2014.12,-7.1),(2014.18,-11.2),(2014.77,-36.8),(2014.88,-10.5),(2015.85,-9.7),(2016.26,-13.5),(2016.6,-36.1),(2016.97,-12.6),
(2017.48,-6.8),(2017.5,-10.6),(2017.48,-14.9),(2018.23,-13.7),(2017.97,-43.7),(2019.14,-19.6),(2019.37,-7.1),(2019.37,-14.0),
(2019.4,-17.6),(2019.99,-15.6),(2019.8,-45.9),(2021.14,-46.7),(2021.55,-15.8),(2022.02,-17.8),(2022.17,-20.8),(2022.65,-45.8),
(2022.79,-45.0),
# ragged edges of the corrected cloud
(2002.45,6),(2002.9,9),(2003.05,10.5),(2003.45,9),(2003.7,9.5),(2004.1,6),(2004.4,5),(2004.6,4),(2004.9,4.5),(2005.1,3),
(2005.35,5),(2005.6,2),(2005.8,1.5),(2006.2,0.5),(2006.5,0),(2006.75,-0.5),(2007.1,-2),(2007.3,-1.5),(2007.6,-2.5),(2007.9,-3),
(2008.3,-3.5),(2008.6,-4),(2008.9,-4),(2009.2,-5),(2009.5,-5),(2009.8,-4.5),(2010.2,-6.5),(2010.5,-6),(2010.8,-7.5),(2011.1,-8.5),
(2011.4,-8),(2011.7,-8.5),(2012.1,-7.5),(2012.4,-8),(2012.7,-9),(2013.0,-9.5),(2013.4,-9),(2013.7,-10),(2014.0,-10),(2014.3,-10.5),
(2014.6,-11),(2014.9,-12),(2015.2,-12),(2015.5,-12.5),(2015.8,-13),(2016.1,-14),(2016.4,-14.5),(2016.7,-15),(2017.0,-16),(2017.3,-16),
(2017.6,-17),(2017.9,-18),(2018.2,-19),(2018.5,-19.5),(2018.7,-20),(2019.1,-19),(2019.8,-19.5),(2020.1,-20),(2020.4,-21),(2020.7,-21.5),
(2021.0,-22),(2021.3,-22),(2021.6,-21.5),(2021.9,-22),(2022.2,-22.5),(2022.5,-23),(2022.8,-24),
(2002.35,-16),(2003.2,-10),(2003.9,-12.5),(2004.6,-13.5),(2005.3,-14.5),(2006.0,-15),(2006.6,-17),(2007.3,-19.5),(2008.0,-19),
(2008.7,-20),(2009.4,-21),(2010.1,-24),(2010.8,-26),(2011.5,-27),(2012.2,-28),(2012.9,-28.5),(2013.6,-29),(2014.3,-30),(2015.0,-32),
(2015.7,-32.5),(2016.4,-33.5),(2017.1,-36),(2017.8,-37),(2018.5,-38),(2019.9,-42),(2020.6,-41),(2021.3,-42),(2022.0,-43),(2022.7,-44)]

# ---------------- annotations ----------------
BOXES_A = [("WET", 2002.57, 2003.51, 7.41, 6.29), ("DRY", 2002.57, 2003.51, -6.17, -7.27)]
BOXES_B = [("GAIN", 2002.57, 2003.60, 35.2, 28.0), ("LOSS", 2002.57, 2003.70, -57.3, -65.3)]
LABELS_A = [("Dry", 2005.97, -6.62), ("Wet", 2013.57, -6.62), ("Dry", 2019.95, -6.62)]
LABELS_C = [("Early", 2005.91, -53.06), ("Middle", 2013.55, -53.06), ("Late", 2019.94, -53.06)]

SHADE = "#eeeff1"
GRID = "#dedede"
TICK = "#555555"
BAND = "#b3b3b3"

years_df = pd.DataFrame({"year": YEARS})
shade_df = pd.DataFrame({"a": [p[0] for p in PERIODS], "b": [p[1] for p in PERIODS]})


def pairs_df(pairs):
    return pd.DataFrame({"t": [p[0] for p in pairs], "v": [p[1] for p in pairs]})


def polygon_df(upper, lower):
    pts = list(upper) + list(reversed(lower))
    return pd.DataFrame({"t": [p[0] for p in pts], "v": [p[1] for p in pts], "o": list(range(len(pts)))})


def cloud_df(segments):
    rows = []
    for i, seg in enumerate(segments):
        for t, hi, lo in seg:
            rows.append({"t": t, "hi": hi, "lo": lo, "seg": i})
    return pd.DataFrame(rows)


def xaxis(title=None):
    kw = dict(values=YEARS, format="d", grid=False, ticks=False, domain=False, labelFont=FONT,
              labelFontSize=10, labelColor="#333333", labelPadding=6)
    if title:
        return alt.Axis(title=title, titleFont=FONT, titleFontSize=32, titleFontWeight="normal",
                        titleColor="black", titleX=518, titleY=19, titleAlign="center",
                        titleBaseline="top", **kw)
    return alt.Axis(title=None, **kw)


def yaxis(values, title, size, tx, ty, lh=None):
    kw = dict(values=values, grid=False, ticks=False, domain=False, labelFont=FONT, labelFontSize=10,
              labelColor="#333333", labelPadding=7, title=title, titleFont=FONT, titleFontSize=size,
              titleFontWeight="normal", titleColor="black", titleAngle=270, titleAlign="center",
              titleBaseline="alphabetic", titleX=tx, titleY=ty)
    if lh:
        kw["titleLineHeight"] = lh
    return alt.Axis(**kw)


def encoders(ydom, xax, yax):
    xs = alt.Scale(domain=[X0, X1], nice=False, zero=False)
    ys = alt.Scale(domain=ydom, nice=False, zero=False)
    X = lambda f: alt.X(f"{f}:Q", scale=xs, axis=xax)
    Y = lambda f: alt.Y(f"{f}:Q", scale=ys, axis=yax)
    return X, Y


def background(X, Y, yticks):
    yt = pd.DataFrame({"v": yticks})
    return [
        alt.Chart(shade_df).mark_rect(color=SHADE).encode(x=X("a"), x2=alt.X2("b")),
        alt.Chart(years_df).mark_rule(color=GRID, strokeWidth=1).encode(x=X("year")),
        alt.Chart(yt).mark_rule(color=GRID, strokeWidth=1).encode(y=Y("v")),
    ]


def frame_ticks(X, Y, yticks, h):
    yt = pd.DataFrame({"v": yticks})
    return [
        alt.Chart(years_df).mark_tick(orient="vertical", thickness=1, size=9, color=TICK)
            .encode(x=X("year"), y=alt.value(h - 4.5)),
        alt.Chart(years_df).mark_tick(orient="vertical", thickness=1, size=9, color=TICK)
            .encode(x=X("year"), y=alt.value(4.5)),
        alt.Chart(yt).mark_tick(orient="horizontal", thickness=1, size=9, color=TICK)
            .encode(y=Y("v"), x=alt.value(4.5)),
        alt.Chart(yt).mark_tick(orient="horizontal", thickness=1, size=9, color=TICK)
            .encode(y=Y("v"), x=alt.value(W - 4.5)),
    ]


def zero_line(Y):
    return alt.Chart(pd.DataFrame({"v": [0]})).mark_rule(color="#666666", strokeDash=[6, 4], strokeWidth=1).encode(y=Y("v"))


def boxes(X, Y, items):
    df = pd.DataFrame([{"lab": a, "x1": b, "x2": c, "y1": d, "y2": e, "xm": (b + c) / 2, "ym": (d + e) / 2}
                       for a, b, c, d, e in items])
    return [
        alt.Chart(df).mark_rect(fillOpacity=0, stroke="#3a3a3a", strokeWidth=1)
            .encode(x=X("x1"), x2=alt.X2("x2"), y=Y("y1"), y2=alt.Y2("y2")),
        alt.Chart(df).mark_text(font=FONT, fontSize=18.5, color="black", align="center", baseline="middle")
            .encode(x=X("xm"), y=Y("ym"), text="lab:N"),
    ]


def big_labels(X, Y, items):
    df = pd.DataFrame([{"lab": a, "t": b, "v": c} for a, b, c in items])
    return alt.Chart(df).mark_text(font=FONT, fontSize=32, color="black", align="center", baseline="alphabetic").encode(
        x=X("t"), y=Y("v"), text="lab:N")


def title(text):
    return alt.TitleParams(text, font=FONT, fontSize=33.5, fontWeight="bold", color="black", anchor="middle",
                           frame="group", offset=0, dx=-3)


def band_and_line(X, Y, upper, lower, line):
    return [
        alt.Chart(polygon_df(upper, lower)).mark_line(filled=True, fill=BAND, stroke=BAND, strokeWidth=0.5,
                                                      interpolate="linear-closed", clip=True)
            .encode(x=X("t"), y=Y("v"), order="o:Q"),
        zero_line(Y),
        alt.Chart(pairs_df(line)).mark_line(color="black", strokeWidth=2, clip=True).encode(x=X("t"), y=Y("v")),
    ]


# Panel A
XA, YA = encoders([-8, 8], xaxis(), yaxis(PDSI_TICKS, "PDSI Index", 27, -38, 136))
panel_a = alt.layer(
    *background(XA, YA, PDSI_TICKS),
    *band_and_line(XA, YA, PDSI_UPPER, PDSI_LOWER, PDSI_LINE),
    *boxes(XA, YA, BOXES_A),
    big_labels(XA, YA, LABELS_A),
    *frame_ticks(XA, YA, PDSI_TICKS, H_A),
).properties(width=W, height=H_A, title=title("(A) Palmer Drought Severity Index"))

# Panel B
XB, YB = encoders([-70, 40], xaxis(),
                  yaxis(GRACE_TICKS, ["Water Equivalent", "Height (mm)"], 24, -67, 150, lh=34))
panel_b = alt.layer(
    *background(XB, YB, GRACE_TICKS),
    *band_and_line(XB, YB, GRACE_UPPER, GRACE_LOWER, GRACE_LINE),
    *boxes(XB, YB, BOXES_B),
    *frame_ticks(XB, YB, GRACE_TICKS, H_B),
).properties(width=W, height=H_B, title=title("(B) GRACE Solutions"))

# Panel C
XC, YC = encoders([-60, 25], xaxis("Time (Year)"), yaxis(GPS_TICKS, "Up (mm)", 25, -40, 155))
SERIES = ["Positions", "Corrected Positions"]
legend = alt.Legend(title=None, orient="none", legendX=840, legendY=4, direction="vertical",
                    fillColor="white", strokeColor="#444444", padding=6, labelFont=FONT, labelFontSize=12,
                    labelColor="black", symbolType="circle", symbolSize=34, symbolStrokeColor="#222222",
                    symbolStrokeWidth=0.6, rowPadding=3, labelOffset=17, symbolOffset=15, cornerRadius=0)
color = alt.Color("s:N", scale=alt.Scale(domain=SERIES, range=["#a9a9a9", "#111111"]), legend=legend)
pos_pts = pd.DataFrame({"t": [p[0] for p in GPS_POS_PTS], "v": [p[1] for p in GPS_POS_PTS], "s": SERIES[0]})
cor_pts = pd.DataFrame({"t": [p[0] for p in GPS_CORR_PTS], "v": [p[1] for p in GPS_CORR_PTS], "s": SERIES[1]})

panel_c = alt.layer(
    *background(XC, YC, GPS_TICKS),
    zero_line(YC),
    alt.Chart(cloud_df(GPS_POS_CLOUD)).mark_area(color="#9c9c9c", clip=True)
        .encode(x=XC("t"), y=YC("hi"), y2=alt.Y2("lo"), detail="seg:N"),
    alt.Chart(pos_pts).mark_circle(size=28, opacity=1, stroke="#2a2a2a", strokeWidth=0.6, clip=True)
        .encode(x=XC("t"), y=YC("v"), color=color),
    alt.Chart(cloud_df(GPS_CORR_CLOUD)).mark_area(color="#141414", clip=True)
        .encode(x=XC("t"), y=YC("hi"), y2=alt.Y2("lo"), detail="seg:N"),
    alt.Chart(cor_pts).mark_circle(size=28, opacity=1, stroke="#000000", strokeWidth=0.6, clip=True)
        .encode(x=XC("t"), y=YC("v"), color=color),
    big_labels(XC, YC, LABELS_C),
    *frame_ticks(XC, YC, GPS_TICKS, H_C),
).properties(width=W, height=H_C, title=title("(C) GPS Time Series"))

chart = alt.vconcat(panel_a, panel_b, panel_c, spacing=120, bounds="flush").resolve_scale(
    color="independent"
).properties(
    padding={"left": 15, "top": 13, "right": 0, "bottom": 0}
).configure_view(stroke="#5a5a5a", strokeWidth=1)

chart.save("out.html", embed_options={"renderer": "svg", "actions": False})
